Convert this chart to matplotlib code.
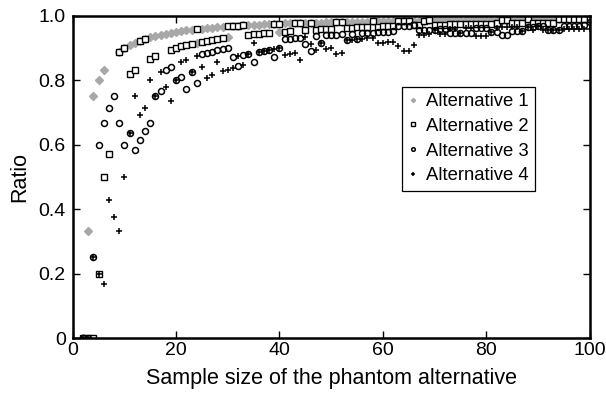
import numpy as np
import matplotlib.pyplot as plt

plt.rcParams['font.family'] = ['Liberation Sans', 'DejaVu Sans']

# sample sizes 2..100
sample_size = list(range(2, 101))
nan = np.nan

# ratios, one value per sample size (nan = not visible)
alt1 = [0.0, 0.333, 0.75, 0.8, 0.833, nan, nan, 0.889, 0.9, 0.909,
        0.917, 0.923, 0.929, 0.933, 0.938, 0.941, 0.944, 0.947, 0.95, 0.952,
        0.955, 0.957, 0.917, 0.96, 0.962, 0.963, 0.964, 0.966, 0.933, 0.968,
        0.969, 0.97, 0.971, 0.971, 0.972, 0.973, 0.974, 0.974, 0.95, 0.976,
        0.976, 0.977, 0.977, 0.978, 0.978, 0.979, 0.979, 0.98, 0.98, 0.98,
        0.981, 0.981, 0.981, 0.982, 0.982, 0.982, 0.983, 0.983, 0.983, 0.984,
        0.984, 0.984, 0.984, 0.985, 0.985, 0.985, 0.985, 0.986, 0.986, 0.986,
        0.986, 0.986, 0.986, 0.987, 0.987, 0.987, 0.987, 0.987, 0.988, 0.988,
        0.988, 0.988, 0.988, 0.988, 0.988, 0.989, 0.989, 0.989, 0.989, 0.989,
        0.989, 0.989, 0.989, 0.989, 0.99, 0.99, 0.99, 0.99, 0.99]

alt2 = [0.0, 0.0, 0.0, 0.2, 0.5, 0.571, nan, 0.889, 0.9, 0.818,
        0.833, 0.923, 0.929, 0.867, 0.875, nan, nan, 0.895, 0.9, 0.905,
        0.909, 0.913, 0.958, 0.92, 0.923, 0.926, 0.929, 0.931, 0.967, 0.968,
        0.969, 0.97, 0.941, 0.943, 0.944, 0.946, 0.947, 0.974, 0.975, 0.951,
        0.952, 0.977, 0.977, 0.956, 0.978, 0.957, 0.958, 0.959, 0.96, 0.98,
        0.981, 0.962, 0.963, 0.964, 0.964, 0.965, 0.983, 0.966, 0.967, 0.967,
        0.968, 0.984, 0.984, 0.985, 0.97, 0.97, 0.985, 0.986, 0.971, 0.972,
        0.972, 0.973, 0.973, 0.973, 0.974, 0.974, 0.974, 0.975, 0.975, 0.975,
        0.976, 0.988, 0.988, 0.976, 0.977, 0.977, 0.989, 0.978, 0.978, 0.978,
        0.978, 0.978, 0.989, 0.989, 0.99, 0.99, 0.99, 0.99, 0.99]

alt3 = [0.0, 0.0, 0.25, 0.6, 0.667, 0.714, 0.75, 0.667, 0.6, 0.636,
        0.583, 0.615, 0.643, 0.667, 0.75, 0.765, 0.833, 0.842, 0.8, 0.81,
        0.773, 0.826, 0.792, 0.88, 0.885, 0.889, 0.893, 0.897, 0.9, 0.871,
        0.844, 0.879, 0.882, 0.857, 0.889, 0.892, 0.895, 0.872, 0.9, 0.927,
        0.929, 0.93, 0.932, 0.911, 0.891, 0.936, 0.917, 0.939, 0.94, 0.941,
        0.942, 0.925, 0.944, 0.927, 0.946, 0.947, 0.948, 0.949, 0.95, 0.951,
        0.952, 0.968, 0.969, 0.969, 0.97, 0.955, 0.956, 0.957, 0.957, 0.958,
        0.958, 0.945, 0.946, 0.947, 0.947, 0.948, 0.962, 0.962, 0.963, 0.951,
        0.951, 0.94, 0.94, 0.953, 0.953, 0.954, 0.966, 0.966, 0.967, 0.967,
        0.957, 0.957, 0.957, 0.968, 0.969, 0.969, 0.969, 0.97, 0.98]

alt4 = [0.0, 0.0, 0.25, 0.2, 0.167, 0.429, 0.375, 0.333, 0.5, 0.636,
        0.75, 0.692, 0.714, 0.8, 0.75, 0.824, 0.778, 0.737, 0.8, 0.857,
        0.864, 0.826, 0.875, 0.84, 0.808, 0.815, 0.857, 0.828, 0.833, 0.839,
        0.875, 0.848, 0.882, 0.914, 0.889, 0.892, 0.895, 0.897, 0.9, 0.878,
        0.881, 0.884, 0.864, 0.933, 0.913, 0.894, 0.917, 0.898, 0.9, 0.882,
        0.885, 0.925, 0.926, 0.927, 0.929, 0.93, 0.931, 0.915, 0.917, 0.918,
        0.919, 0.905, 0.891, 0.892, 0.909, 0.94, 0.941, 0.942, 0.957, 0.944,
        0.944, 0.959, 0.959, 0.947, 0.961, 0.961, 0.936, 0.937, 0.938, 0.951,
        0.963, 0.964, 0.964, 0.965, 0.965, 0.954, 0.966, 0.955, 0.967, 0.956,
        0.957, 0.957, 0.957, 0.958, 0.958, 0.959, 0.959, 0.96, 0.96]

fig = plt.figure(figsize=(6.06, 3.94), dpi=100)
ax = fig.add_axes([0.12, 0.142, 0.853, 0.818])

ax.plot(sample_size, alt1, 'D', ls='none', ms=3.6, color='#a8a8a8', mec='#a8a8a8',
        label='Alternative 1')
ax.plot(sample_size, alt2, 's', ls='none', ms=4.0, mfc='white', mec='black', mew=1.0,
        label='Alternative 2')
ax.plot(sample_size, alt3, 'o', ls='none', ms=4.3, mfc='none', mec='black', mew=1.1,
        label='Alternative 3')
ax.plot(sample_size, alt4, '+', ls='none', ms=5, color='black', mew=1.1,
        label='Alternative 4')

ax.set_xlim(0, 100)
ax.set_ylim(0, 1.0)
ax.set_xticks([0, 20, 40, 60, 80, 100])
ax.set_yticks([0, 0.2, 0.4, 0.6, 0.8, 1.0])
ax.set_yticklabels(['0', '0.2', '0.4', '0.6', '0.8', '1.0'])
ax.tick_params(direction='in', top=True, right=True, length=5, width=1,
               labelsize=14, pad=3)
ax.tick_params(axis='y', pad=5)
for sp in ax.spines.values():
    sp.set_linewidth(1.8)

ax.set_xlabel('Sample size of the phantom alternative', fontsize=15.5, labelpad=6)
ax.set_ylabel('Ratio', fontsize=15.5, labelpad=6)

leg = ax.legend(loc='upper left', bbox_to_anchor=(0.637, 0.78), fontsize=13.3,
                frameon=True, fancybox=False, edgecolor='black', framealpha=1,
                markerscale=0.6, handlelength=0.5, handletextpad=0.45,
                borderpad=0.35, borderaxespad=0, labelspacing=0.42)
leg.get_frame().set_linewidth(0.9)

plt.savefig('out.png', dpi=100)
